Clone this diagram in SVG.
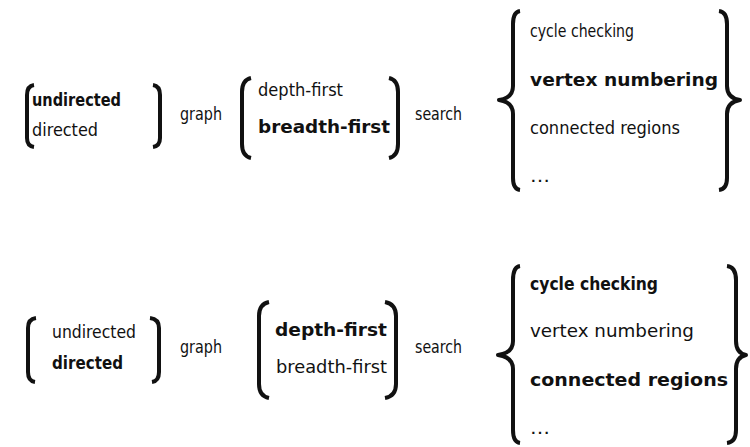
<svg xmlns="http://www.w3.org/2000/svg" width="750" height="447" viewBox="0 0 750 447">
  <style>
    text { font-family: "DejaVu Sans Condensed", "DejaVu Sans", sans-serif; font-size: 18px; fill: #111; }
    .b { font-weight: bold; }
    .br { fill: none; stroke: #111; stroke-width: 4; stroke-linecap: butt; stroke-linejoin: round; }
  </style>
  <rect width="750" height="447" fill="#fff"/>

  <!-- first combination -->
  <g id="row1">
    <g id="r1-kind">
      <path class="br" d="M34,85 Q27,86 27,95 V138 Q27,146 34,147"/>
      <text class="b" x="32" y="106" textLength="89" lengthAdjust="spacingAndGlyphs">undirected</text>
      <text x="32" y="136" textLength="66" lengthAdjust="spacingAndGlyphs">directed</text>
      <path class="br" d="M153,85 Q160,86 160,95 V138 Q160,146 153,147"/>
    </g>
    <text x="180" y="120" textLength="42" lengthAdjust="spacingAndGlyphs">graph</text>
    <g id="r1-order">
      <path class="br" d="M251,78 Q242,80 242,92 V144 Q242,156 251,158"/>
      <text x="258" y="96" textLength="85" lengthAdjust="spacingAndGlyphs">depth-first</text>
      <text class="b" x="258" y="133" textLength="132" lengthAdjust="spacingAndGlyphs">breadth-first</text>
      <path class="br" d="M389,78 Q398,80 398,92 V144 Q398,156 389,158"/>
    </g>
    <text x="415" y="120" textLength="47" lengthAdjust="spacingAndGlyphs">search</text>
    <g id="r1-use">
      <path class="br" d="M520,11 Q513,12 513,24 V86 Q513,98 499,100 Q513,102 513,114 V178 Q513,189 520,190"/>
      <text x="530" y="37" textLength="104" lengthAdjust="spacingAndGlyphs">cycle checking</text>
      <text class="b" x="530" y="86" textLength="188" lengthAdjust="spacingAndGlyphs">vertex numbering</text>
      <text x="530" y="134" textLength="150" lengthAdjust="spacingAndGlyphs">connected regions</text>
      <text x="530" y="182" textLength="20" lengthAdjust="spacingAndGlyphs">…</text>
      <path class="br" d="M719,11 Q727,12 727,24 V86 Q727,98 740,100 Q727,102 727,114 V178 Q727,189 719,190"/>
    </g>
  </g>

  <!-- second combination -->
  <g id="row2">
    <g id="r2-kind">
      <path class="br" d="M36,318 Q28,319 28,328 V372 Q28,381 35,382"/>
      <text x="52" y="338" textLength="84" lengthAdjust="spacingAndGlyphs">undirected</text>
      <text class="b" x="52" y="369" textLength="71" lengthAdjust="spacingAndGlyphs">directed</text>
      <path class="br" d="M150,318 Q159,319 159,328 V372 Q159,381 152,382"/>
    </g>
    <text x="180" y="353" textLength="42" lengthAdjust="spacingAndGlyphs">graph</text>
    <g id="r2-order">
      <path class="br" d="M269,302 Q259,304 259,316 V384 Q259,396 269,398"/>
      <text class="b" x="275" y="336" textLength="112" lengthAdjust="spacingAndGlyphs">depth-first</text>
      <text x="276" y="373" textLength="111" lengthAdjust="spacingAndGlyphs">breadth-first</text>
      <path class="br" d="M385,302 Q396,304 396,316 V384 Q396,396 385,398"/>
    </g>
    <text x="415" y="353" textLength="47" lengthAdjust="spacingAndGlyphs">search</text>
    <g id="r2-use">
      <path class="br" d="M520,266 Q513,267 513,280 V341 Q513,353 498,355 Q513,357 513,369 V430 Q513,442 520,443"/>
      <text class="b" x="530" y="290" textLength="128" lengthAdjust="spacingAndGlyphs">cycle checking</text>
      <text x="530" y="337" textLength="164" lengthAdjust="spacingAndGlyphs">vertex numbering</text>
      <text class="b" x="530" y="386" textLength="198" lengthAdjust="spacingAndGlyphs">connected regions</text>
      <text x="530" y="434" textLength="20" lengthAdjust="spacingAndGlyphs">…</text>
      <path class="br" d="M727,266 Q736,267 736,280 V341 Q736,353 746,355 Q736,357 736,369 V430 Q736,442 727,443"/>
    </g>
  </g>
</svg>
